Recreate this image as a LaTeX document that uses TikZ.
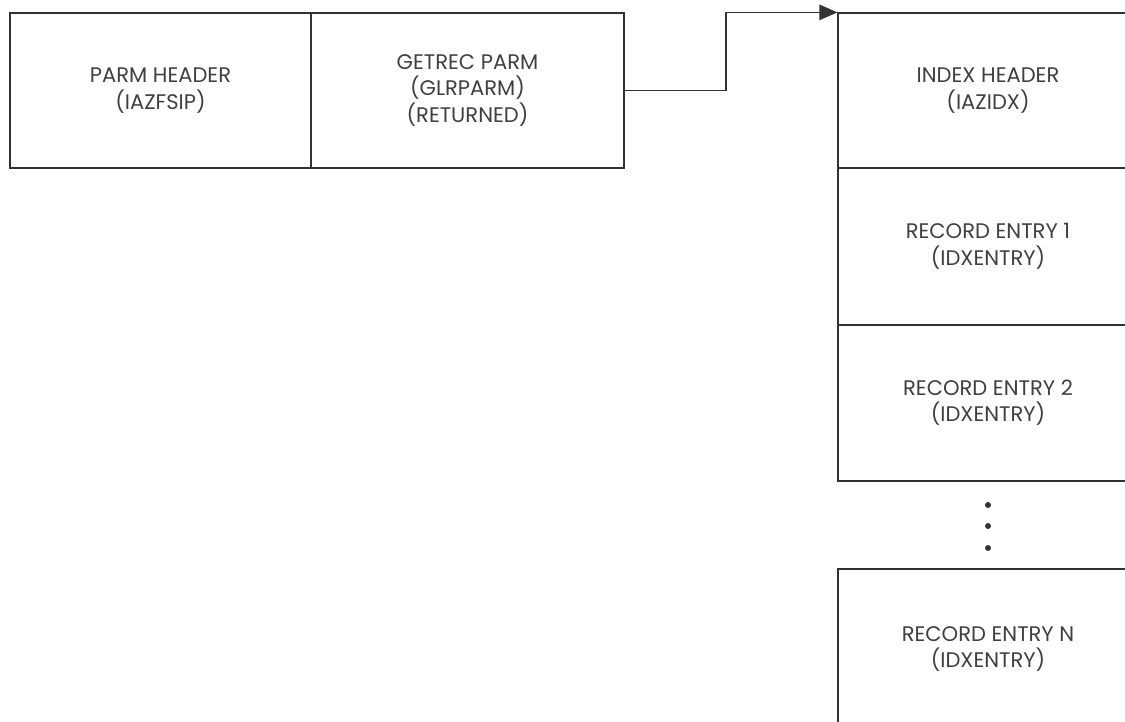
\documentclass[tikz,border=0pt]{standalone}
\usepackage{fontspec}
\setmainfont{Poppins}
\usetikzlibrary{arrows.meta}

\definecolor{inkgray}{HTML}{333333}
\definecolor{textgray}{HTML}{404040}

\tikzset{
  blockbox/.style={draw=inkgray, line width=0.7pt, minimum width=6cm, align=center,
    text=textgray, font=\fontsize{12}{15}\selectfont, inner sep=0pt},
  dotmark/.style={circle, fill=inkgray, inner sep=0pt, minimum size=0.12cm}
}

\begin{document}
\begin{tikzpicture}
  \useasboundingbox (0,0) rectangle (22.5,-14.42);
  \clip (0,0) rectangle (22.5,-14.42);

  \node (parm) at (3.21,-1.81) [blockbox, minimum width=6.02cm, minimum height=3.1cm] {PARM HEADER\\(IAZFSIP)};
  \node (getrec) at (9.35,-1.81) [blockbox, minimum width=6.26cm, minimum height=3.1cm] {GETREC PARM\\(GLRPARM)\\(RETURNED)};

  \node (idx) at (19.76,-1.81) [blockbox, minimum height=3.1cm] {INDEX HEADER\\(IAZIDX)};
  \node (rec1) at (19.76,-4.93) [blockbox, minimum height=3.14cm] {RECORD ENTRY 1\\(IDXENTRY)};
  \node (rec2) at (19.76,-8.06) [blockbox, minimum height=3.12cm] {RECORD ENTRY 2\\(IDXENTRY)};
  \node (recN) at (19.76,-12.98) [blockbox, minimum height=3.2cm] {RECORD ENTRY N\\(IDXENTRY)};

  \foreach \i/\y in {1/-10.1, 2/-10.52, 3/-10.96}
    \node (dot\i) at (19.76,\y) [dotmark] {};

  \coordinate (bend) at (14.52,-1.81);
  \draw[inkgray, line width=0.7pt, -{Triangle[length=3.6mm,width=3.1mm]}] (getrec.east) -- (bend) |- (idx.north west);
\end{tikzpicture}
\end{document}
